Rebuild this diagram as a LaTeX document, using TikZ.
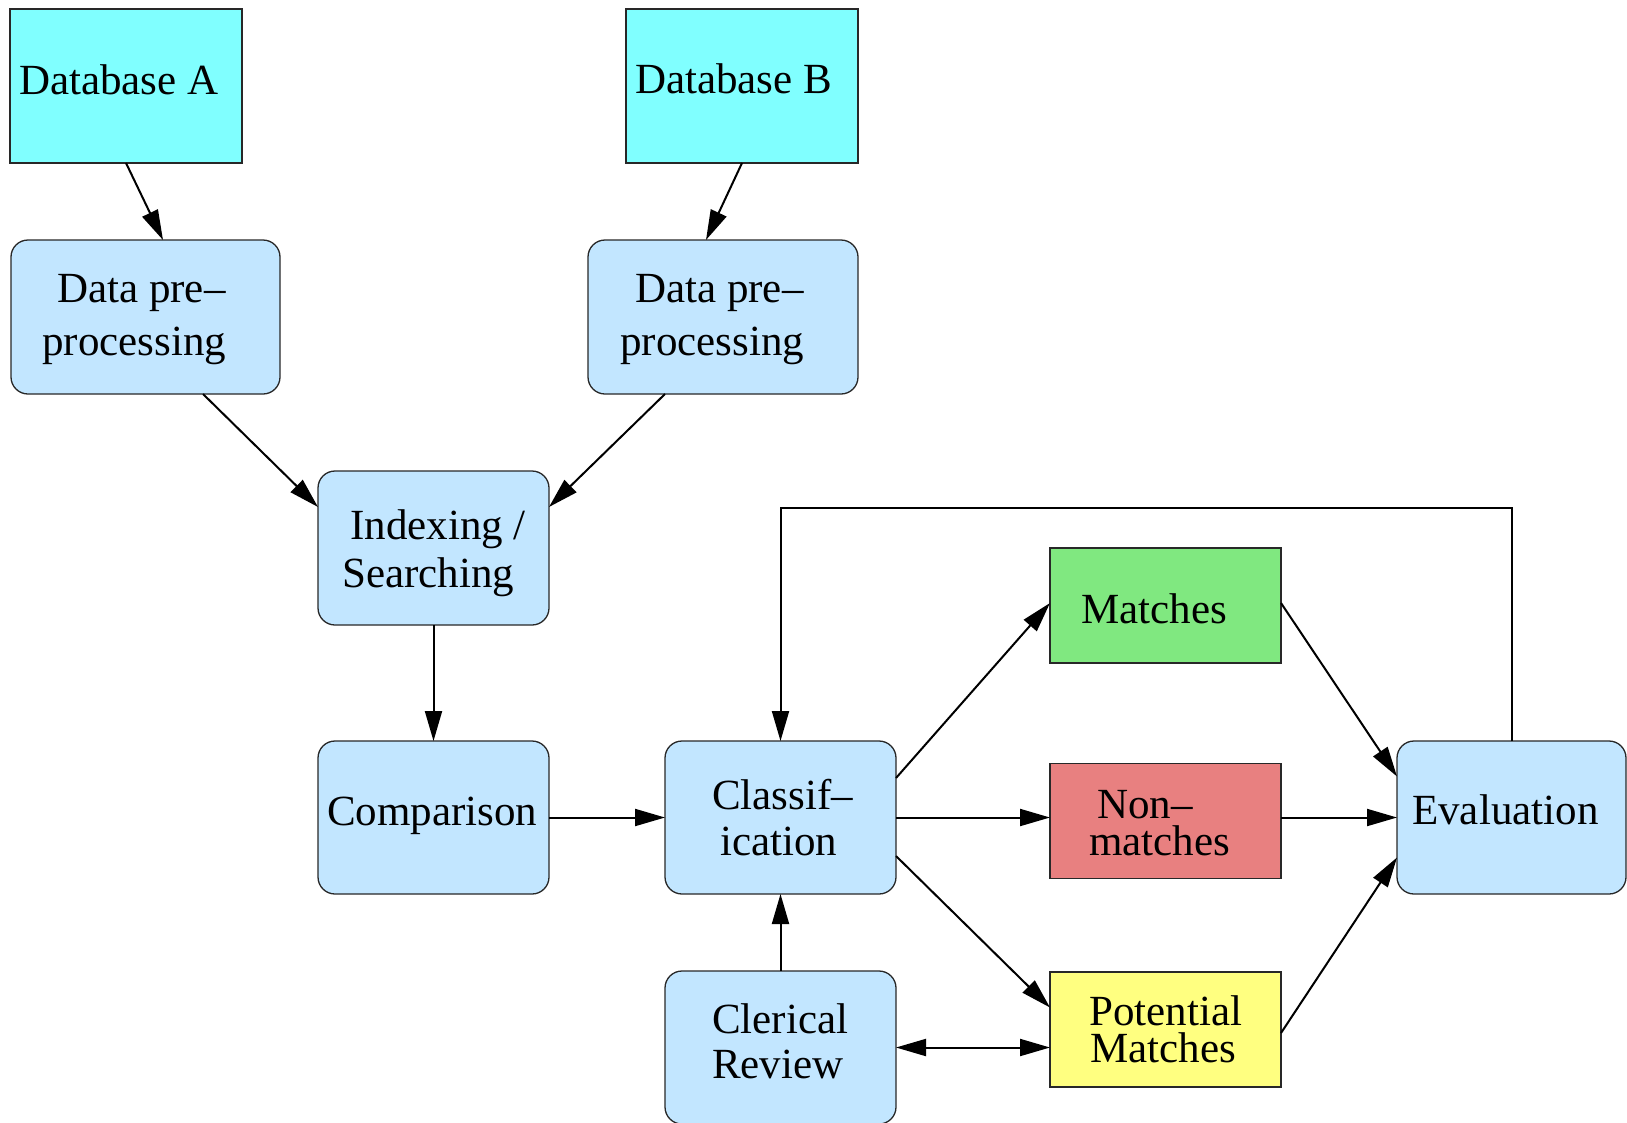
\documentclass[tikz,border=0pt]{standalone}
\usepackage{fontspec}
\setmainfont{Liberation Serif}
\usetikzlibrary{arrows.meta}
\definecolor{dbcyan}{RGB}{128,255,255}
\definecolor{procblue}{RGB}{194,230,255}
\definecolor{matgreen}{RGB}{128,232,128}
\definecolor{nonred}{RGB}{232,128,128}
\definecolor{potyellow}{RGB}{255,255,128}
\definecolor{edgegray}{RGB}{40,40,40}
\tikzset{
  boxbase/.style={draw=edgegray, line width=1.3pt, inner sep=0pt, outer sep=0pt},
  dbbox/.style={boxbase, fill=dbcyan, minimum width=232pt, minimum height=154pt},
  procbox/.style={boxbase, fill=procblue, rounded corners=17pt},
  resbox/.style={boxbase, minimum width=231pt, minimum height=115pt},
  lbl/.style={anchor=base west, inner sep=0pt, font=\fontsize{43}{50}\selectfont},
  arr/.style={line width=2pt, -{Triangle[length=30pt,width=17pt]}},
  darr/.style={line width=2pt, {Triangle[length=30pt,width=17pt]}-{Triangle[length=30pt,width=17pt]}}
}
\begin{document}
\begin{tikzpicture}[x=1pt,y=-1pt]
\useasboundingbox (0,0) rectangle (1627,1122);
\fill[white] (0,0) rectangle (1627,1122);
% databases
\node[dbbox] (dba) at (126,86) {};
\node[dbbox] (dbb) at (742,86) {};
% processing boxes
\node[procbox, minimum width=269pt, minimum height=154pt] (dpa) at (145.5,317) {};
\node[procbox, minimum width=270pt, minimum height=154pt] (dpb) at (723,317) {};
\node[procbox, minimum width=231pt, minimum height=154pt] (idx) at (433.5,548) {};
\node[procbox, minimum width=231pt, minimum height=153pt] (cmp) at (433.5,817.5) {};
\node[procbox, minimum width=231pt, minimum height=153pt] (cls) at (780.5,817.5) {};
\node[procbox, minimum width=231pt, minimum height=153pt] (clr) at (780.5,1047.5) {};
\node[procbox, minimum width=229pt, minimum height=153pt] (eva) at (1511.5,817.5) {};
% result boxes
\node[resbox, fill=matgreen] (mat) at (1165.5,605.5) {};
\node[resbox, fill=nonred] (non) at (1165.5,821) {};
\node[resbox, fill=potyellow] (pot) at (1165.5,1029.5) {};
% labels
\node[lbl] (tdba) at (19,94) {Database A};
\node[lbl] (tdbb) at (635,93) {Database B};
\node[lbl] (tdpa1) at (57,302) {Data pre–};
\node[lbl] (tdpa2) at (42,355) {processing};
\node[lbl] (tdpb1) at (635,302) {Data pre–};
\node[lbl] (tdpb2) at (620,355) {processing};
\node[lbl] (tidx1) at (350,539) {Indexing /};
\node[lbl] (tidx2) at (342,587) {Searching};
\node[lbl] (tcmp) at (327,825) {Comparison};
\node[lbl] (tcls1) at (712,809) {Classif–};
\node[lbl] (tcls2) at (720,855) {ication};
\node[lbl] (tmat) at (1081,623) {Matches};
\node[lbl] (tnon1) at (1097,818) {Non–};
\node[lbl] (tnon2) at (1089,855) {matches};
\node[lbl] (tpot1) at (1089,1025) {Potential};
\node[lbl] (tpot2) at (1090,1062) {Matches};
\node[lbl] (tclr1) at (712,1033) {Clerical};
\node[lbl] (tclr2) at (712,1078) {Review};
\node[lbl] (teva) at (1412,824) {Evaluation};
% connectors
\draw[arr] (dba.south) -- ([xshift=17.5pt]dpa.north);
\draw[arr] (dbb.south) -- ([xshift=-17pt]dpb.north);
\draw[arr] ([xshift=57.5pt]dpa.south) -- ([yshift=41pt]idx.west);
\draw[arr] ([xshift=-58pt]dpb.south) -- ([yshift=41pt]idx.east);
\draw[arr] (idx.south) -- (cmp.north);
\draw[arr] (cmp.east) -- (cls.west);
\draw[arr] ([yshift=39.5pt]cls.east) -- ([yshift=2.5pt]mat.west);
\draw[arr] (cls.east) -- (cls.east -| non.west);
\draw[arr] ([yshift=-38.5pt]cls.east) -- ([yshift=22pt]pot.west);
\draw[arr] ([yshift=2.5pt]mat.east) -- ([yshift=41pt]eva.west);
\draw[arr] (eva.west -| non.east) -- (eva.west);
\draw[arr] ([yshift=-3.5pt]pot.east) -- ([yshift=-40pt]eva.west);
\coordinate (top) at (0,508);
\draw[arr] (eva.north) -- (eva.north |- top) -| (cls.north);
\draw[arr] (clr.north) -- (cls.south);
\draw[darr] (clr.east) -- (clr.east -| pot.west);
\end{tikzpicture}
\end{document}
